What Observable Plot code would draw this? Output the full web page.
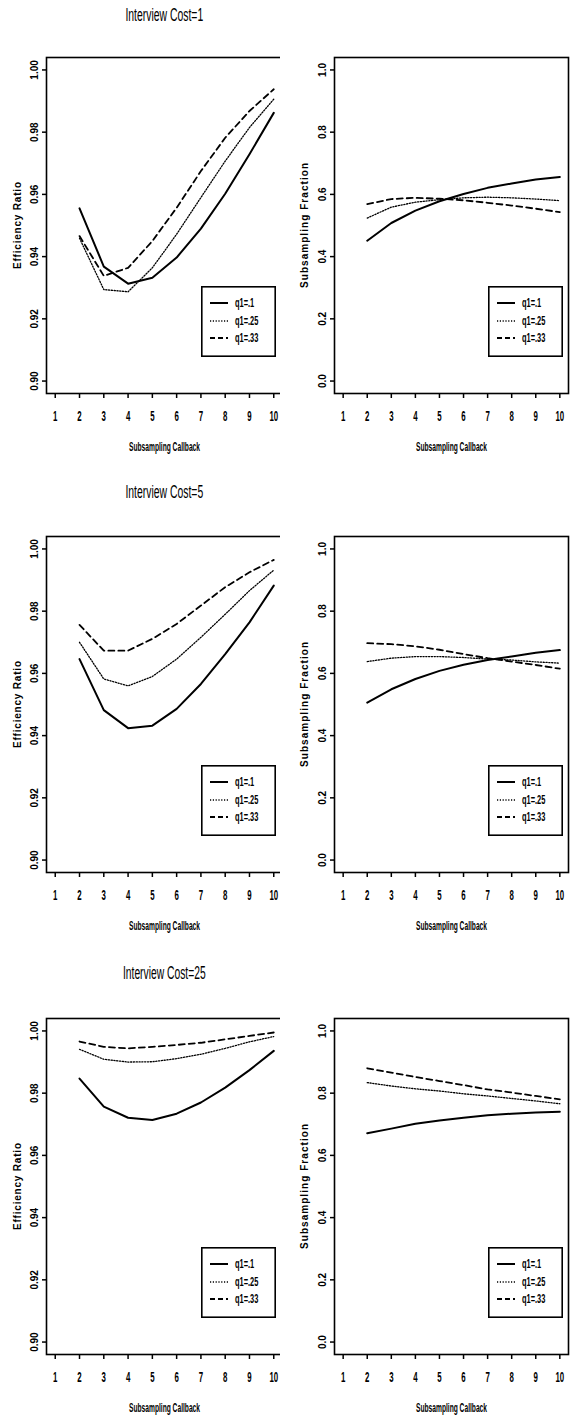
<!DOCTYPE html>
<html>
<head>
<meta charset="utf-8">
<script src="https://cdn.jsdelivr.net/npm/d3@7"></script>
<script src="https://cdn.jsdelivr.net/npm/@observablehq/plot@0.6"></script>
<style>
  html, body { margin: 0; padding: 0; background: #fff; }
  body { width: 570px; height: 1417px; position: relative; overflow: hidden; font-family: "Liberation Sans", Arial, sans-serif; }
  .panel { position: absolute; }
  .title { position: absolute; font-size: 18px; white-space: nowrap; color: #000; transform-origin: center center; }
  .legend { position: absolute; }
</style>
</head>
<body>
<script>
// ---------- data ----------
const callbacks = [2, 3, 4, 5, 6, 7, 8, 9, 10];
const xTicks = [1, 2, 3, 4, 5, 6, 7, 8, 9, 10];
const seriesNames = ["q1=.1", "q1=.25", "q1=.33"];
const costTitles = ["Interview Cost=1", "Interview Cost=5", "Interview Cost=25"];
const effTicks = [0.90, 0.92, 0.94, 0.96, 0.98, 1.00];
const fracTicks = [0.0, 0.2, 0.4, 0.6, 0.8, 1.0];
const effLabel = "Efficiency Ratio";
const fracLabel = "Subsampling Fraction";
const xLabel = "Subsampling Callback";

// Interview Cost = 1
const effCost1_q10 = [0.9555, 0.9368, 0.9313, 0.9332, 0.9397, 0.9490, 0.9602, 0.9729, 0.9862];
const effCost1_q25 = [0.9459, 0.9294, 0.9287, 0.9364, 0.9472, 0.9590, 0.9707, 0.9815, 0.9906];
const effCost1_q33 = [0.9466, 0.9338, 0.9364, 0.9450, 0.9557, 0.9675, 0.9782, 0.9868, 0.9938];
const fracCost1_q10 = [0.451, 0.508, 0.548, 0.578, 0.601, 0.621, 0.635, 0.648, 0.656];
const fracCost1_q25 = [0.524, 0.559, 0.575, 0.583, 0.589, 0.591, 0.589, 0.585, 0.580];
const fracCost1_q33 = [0.569, 0.585, 0.589, 0.586, 0.581, 0.573, 0.564, 0.554, 0.543];
// Interview Cost = 5
const effCost5_q10 = [0.9646, 0.9482, 0.9424, 0.9432, 0.9486, 0.9566, 0.9662, 0.9764, 0.9882];
const effCost5_q25 = [0.9700, 0.9582, 0.9560, 0.9590, 0.9646, 0.9716, 0.9790, 0.9866, 0.9932];
const effCost5_q33 = [0.9756, 0.9673, 0.9673, 0.9711, 0.9759, 0.9818, 0.9877, 0.9925, 0.9965];
const fracCost5_q10 = [0.506, 0.549, 0.582, 0.608, 0.628, 0.643, 0.654, 0.666, 0.675];
const fracCost5_q25 = [0.638, 0.649, 0.654, 0.654, 0.651, 0.646, 0.643, 0.637, 0.633];
const fracCost5_q33 = [0.697, 0.694, 0.687, 0.676, 0.662, 0.649, 0.638, 0.627, 0.615];
// Interview Cost = 25
const effCost25_q10 = [0.9847, 0.9757, 0.9721, 0.9714, 0.9734, 0.9770, 0.9818, 0.9874, 0.9936];
const effCost25_q25 = [0.9941, 0.9909, 0.9900, 0.9901, 0.9911, 0.9925, 0.9944, 0.9965, 0.9982];
const effCost25_q33 = [0.9966, 0.9949, 0.9944, 0.9949, 0.9955, 0.9962, 0.9973, 0.9984, 0.9995];
const fracCost25_q10 = [0.671, 0.686, 0.702, 0.712, 0.721, 0.729, 0.734, 0.738, 0.740];
const fracCost25_q25 = [0.834, 0.823, 0.814, 0.807, 0.798, 0.791, 0.783, 0.775, 0.766];
const fracCost25_q33 = [0.880, 0.866, 0.852, 0.839, 0.826, 0.812, 0.802, 0.791, 0.780];

// ---------- layout ----------
const frameTops = [57, 536, 1018];
const FRAME_H = 336;
const SVG_W = 290, SVG_H = 416, M_TOP = 10, M_BOTTOM = SVG_H - M_TOP - FRAME_H;
const titleTargets = [78, 78, 83];

const lineStyles = [
  {strokeWidth: 2},
  {strokeWidth: 1.3, strokeDasharray: "1.2,1.6"},
  {strokeWidth: 1.8, strokeDasharray: "6,4"}
];

function toRows(arrs) {
  return arrs.flatMap((vals, i) => vals.map((v, j) => ({x: callbacks[j], y: v, s: seriesNames[i]})));
}

function makePanel({rows, yDomain, yTicks, yFormat, yLabel, marginLeft, marginRight, yLabelOffset}) {
  return Plot.plot({
    width: SVG_W, height: SVG_H,
    marginTop: M_TOP, marginBottom: M_BOTTOM, marginLeft, marginRight,
    style: {fontFamily: "'Liberation Sans', Arial, sans-serif", fontSize: "10px", background: "white", color: "black", overflow: "visible"},
    x: {domain: [0.64, 10.36]},
    y: {domain: yDomain},
    marks: [
      Plot.axisX({ticks: xTicks, tickSize: 5, tickPadding: 13, tickFormat: d => String(d),
        fontSize: 14, fontWeight: "bold", strokeWidth: 1.5,
        label: xLabel, labelAnchor: "center", labelOffset: 57, labelArrow: "none"}),
      Plot.axisY({ticks: yTicks, tickSize: 4, tickPadding: 5, tickFormat: yFormat,
        tickRotate: -90, textAnchor: "middle", lineAnchor: "bottom", strokeWidth: 1.5,
        fontWeight: 600,
        label: yLabel, labelAnchor: "center", labelOffset: yLabelOffset, labelArrow: "none"}),
      ...seriesNames.map((name, i) => Plot.line(rows.filter(d => d.s === name),
        {x: "x", y: "y", stroke: "black", strokeLinejoin: "round", ...lineStyles[i]})),
      Plot.frame({stroke: "black", strokeWidth: 1.6})
    ]
  });
}

function condense(svg, yLabelLen) {
  const s = d3.select(svg);
  s.selectAll('g[aria-label="x-axis tick label"] text').each(function() {
    const w = this.getComputedTextLength();
    this.setAttribute("textLength", (w * 0.56).toFixed(2));
    this.setAttribute("lengthAdjust", "spacingAndGlyphs");
  });
  s.selectAll('g[aria-label="x-axis label"]').attr("font-weight", 600).attr("font-size", 12);
  s.selectAll('g[aria-label="x-axis label"] text').each(function() {
    this.setAttribute("textLength", "71");
    this.setAttribute("lengthAdjust", "spacingAndGlyphs");
  });
  s.selectAll('g[aria-label="y-axis label"]').attr("font-weight", "bold").attr("font-size", 10);
  s.selectAll('g[aria-label="y-axis label"] text').each(function() {
    this.setAttribute("textLength", String(yLabelLen));
    this.setAttribute("lengthAdjust", "spacing");
  });
}

function addLegend(left, top) {
  const W = 75, H = 71;
  const div = d3.select(document.body).append("div").attr("class", "legend")
    .style("left", left + "px").style("top", top + "px");
  const svg = div.append("svg").attr("width", W).attr("height", H);
  svg.append("rect").attr("x", 0.8).attr("y", 0.8).attr("width", W - 1.6).attr("height", H - 1.6)
    .attr("fill", "white").attr("stroke", "black").attr("stroke-width", 1.6);
  const rowsY = [17, 35, 52];
  seriesNames.forEach((name, i) => {
    const st = lineStyles[i];
    svg.append("line").attr("x1", 9).attr("x2", 27).attr("y1", rowsY[i]).attr("y2", rowsY[i])
      .attr("stroke", "black").attr("stroke-width", st.strokeWidth)
      .attr("stroke-dasharray", i === 2 ? "5,3" : (st.strokeDasharray || null));
    const t = svg.append("text").attr("x", 34).attr("y", rowsY[i]).attr("dy", "0.35em")
      .attr("font-family", "'Liberation Sans', Arial, sans-serif").attr("font-size", 12)
      .attr("font-weight", "bold").text(name);
    const w = t.node().getComputedTextLength();
    t.attr("textLength", (w * 0.62).toFixed(2)).attr("lengthAdjust", "spacingAndGlyphs");
  });
}

const effSets = [
  [effCost1_q10, effCost1_q25, effCost1_q33],
  [effCost5_q10, effCost5_q25, effCost5_q33],
  [effCost25_q10, effCost25_q25, effCost25_q33]
];
const fracSets = [
  [fracCost1_q10, fracCost1_q25, fracCost1_q33],
  [fracCost5_q10, fracCost5_q25, fracCost5_q33],
  [fracCost25_q10, fracCost25_q25, fracCost25_q33]
];

costTitles.forEach((title, r) => {
  const top = frameTops[r] - M_TOP;
  const frameBottom = frameTops[r] + FRAME_H;

  // left: efficiency ratio
  const left = makePanel({rows: toRows(effSets[r]), yDomain: [0.896, 1.004], yTicks: effTicks,
    yFormat: d3.format(".2f"), yLabel: effLabel, marginLeft: 46, marginRight: 8, yLabelOffset: 33});
  const ldiv = d3.select(document.body).append("div").attr("class", "panel")
    .style("left", "0px").style("top", top + "px");
  ldiv.node().appendChild(left);
  condense(left, 87);

  // right: subsampling fraction
  const right = makePanel({rows: toRows(fracSets[r]), yDomain: [-0.04, 1.04], yTicks: fracTicks,
    yFormat: d3.format(".1f"), yLabel: fracLabel, marginLeft: 54, marginRight: 2, yLabelOffset: 34});
  const rdiv = d3.select(document.body).append("div").attr("class", "panel")
    .style("left", "280px").style("top", top + "px");
  rdiv.node().appendChild(right);
  condense(right, 125);

  addLegend(201, frameBottom - 107);
  addLegend(488, frameBottom - 107);

  // title
  const titleCenters = [15, 492, 973];
  const t = d3.select(document.body).append("div").attr("class", "title").text(title);
  const w = t.node().offsetWidth, h = t.node().offsetHeight;
  t.style("left", (164 - w / 2) + "px").style("top", (titleCenters[r] - h / 2) + "px")
   .style("transform", `scaleX(${(titleTargets[r] / w).toFixed(3)})`);
});
</script>
</body>
</html>
